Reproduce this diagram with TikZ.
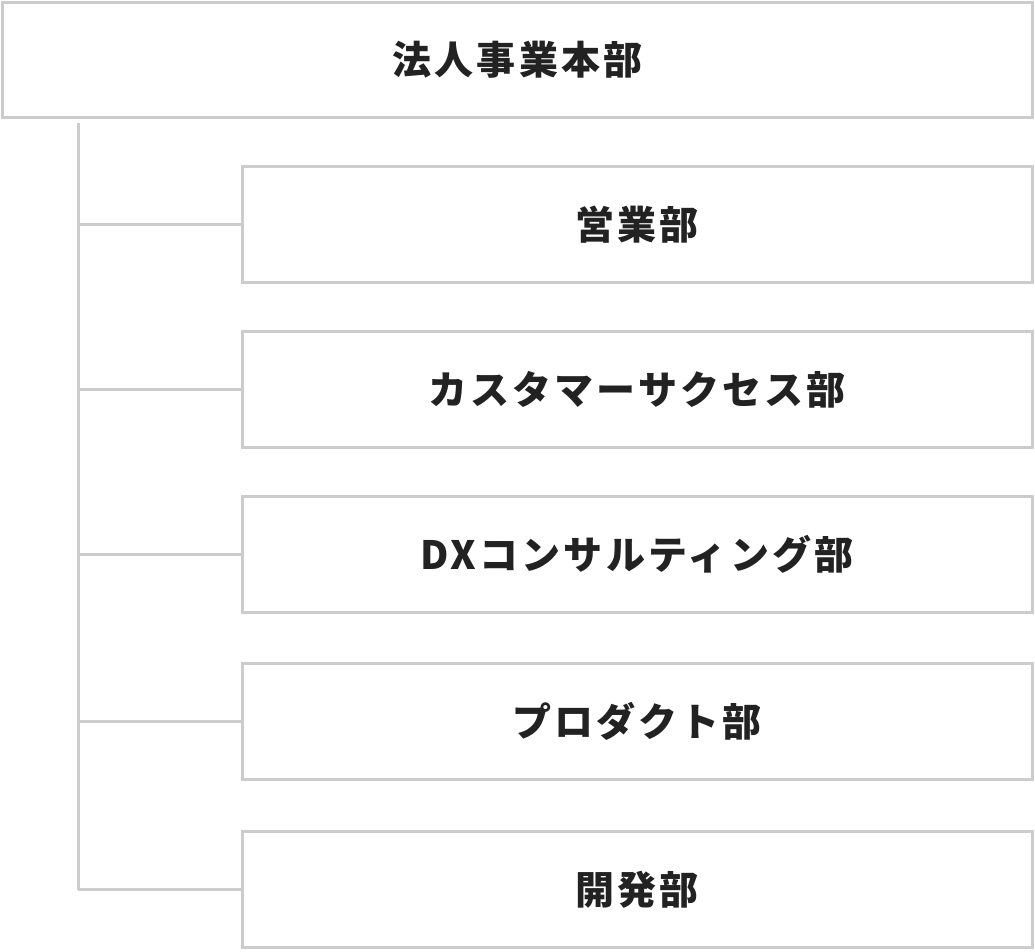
\documentclass[tikz,border=0pt]{standalone}
\usepackage{fontspec}
\usepackage{xcolor}
\usepackage{tikz}
\usetikzlibrary{positioning}
\setmainfont{Noto Sans CJK JP}[LetterSpace=8]
\definecolor{framegray}{RGB}{204, 204, 204}
\definecolor{textdark}{RGB}{34, 34, 34}

\begin{document}
\begin{tikzpicture}[
    x=1pt, y=1pt,
    hqbox/.style={draw=framegray, line width=3pt, minimum width=1030pt,
                  minimum height=115pt, inner sep=0pt, text=textdark,
                  font=\fontsize{39}{45}\selectfont\bfseries},
    dept/.style={draw=framegray, line width=3pt, minimum width=790pt,
                 minimum height=116pt, inner sep=0pt, text=textdark,
                 font=\fontsize{39}{45}\selectfont\bfseries},
    branch/.style={draw=framegray, line width=3pt}
]
    \useasboundingbox (0,0) rectangle (1035,-951);
    \node[hqbox] (hq) at (517.5,-59.5) {法人事業本部};
    \node[dept] (sales) at (637,-224.5) {営業部};
    \node[dept, below=46pt of sales] (success) {カスタマーサクセス部};
    \node[dept, below=46pt of success] (dx) {DXコンサルティング部};
    \node[dept, below=48pt of dx] (product) {プロダクト部};
    \node[dept, below=49pt of product] (dev) {開発部};

    % trunk and branches
    \coordinate (trunk) at (78,-123);
    \draw[branch] (trunk) -- (trunk |- dev.west);
    \foreach \d in {sales, success, dx, product, dev}
        \draw[branch] (trunk |- \d.west) -- (\d.west);
\end{tikzpicture}
\end{document}
